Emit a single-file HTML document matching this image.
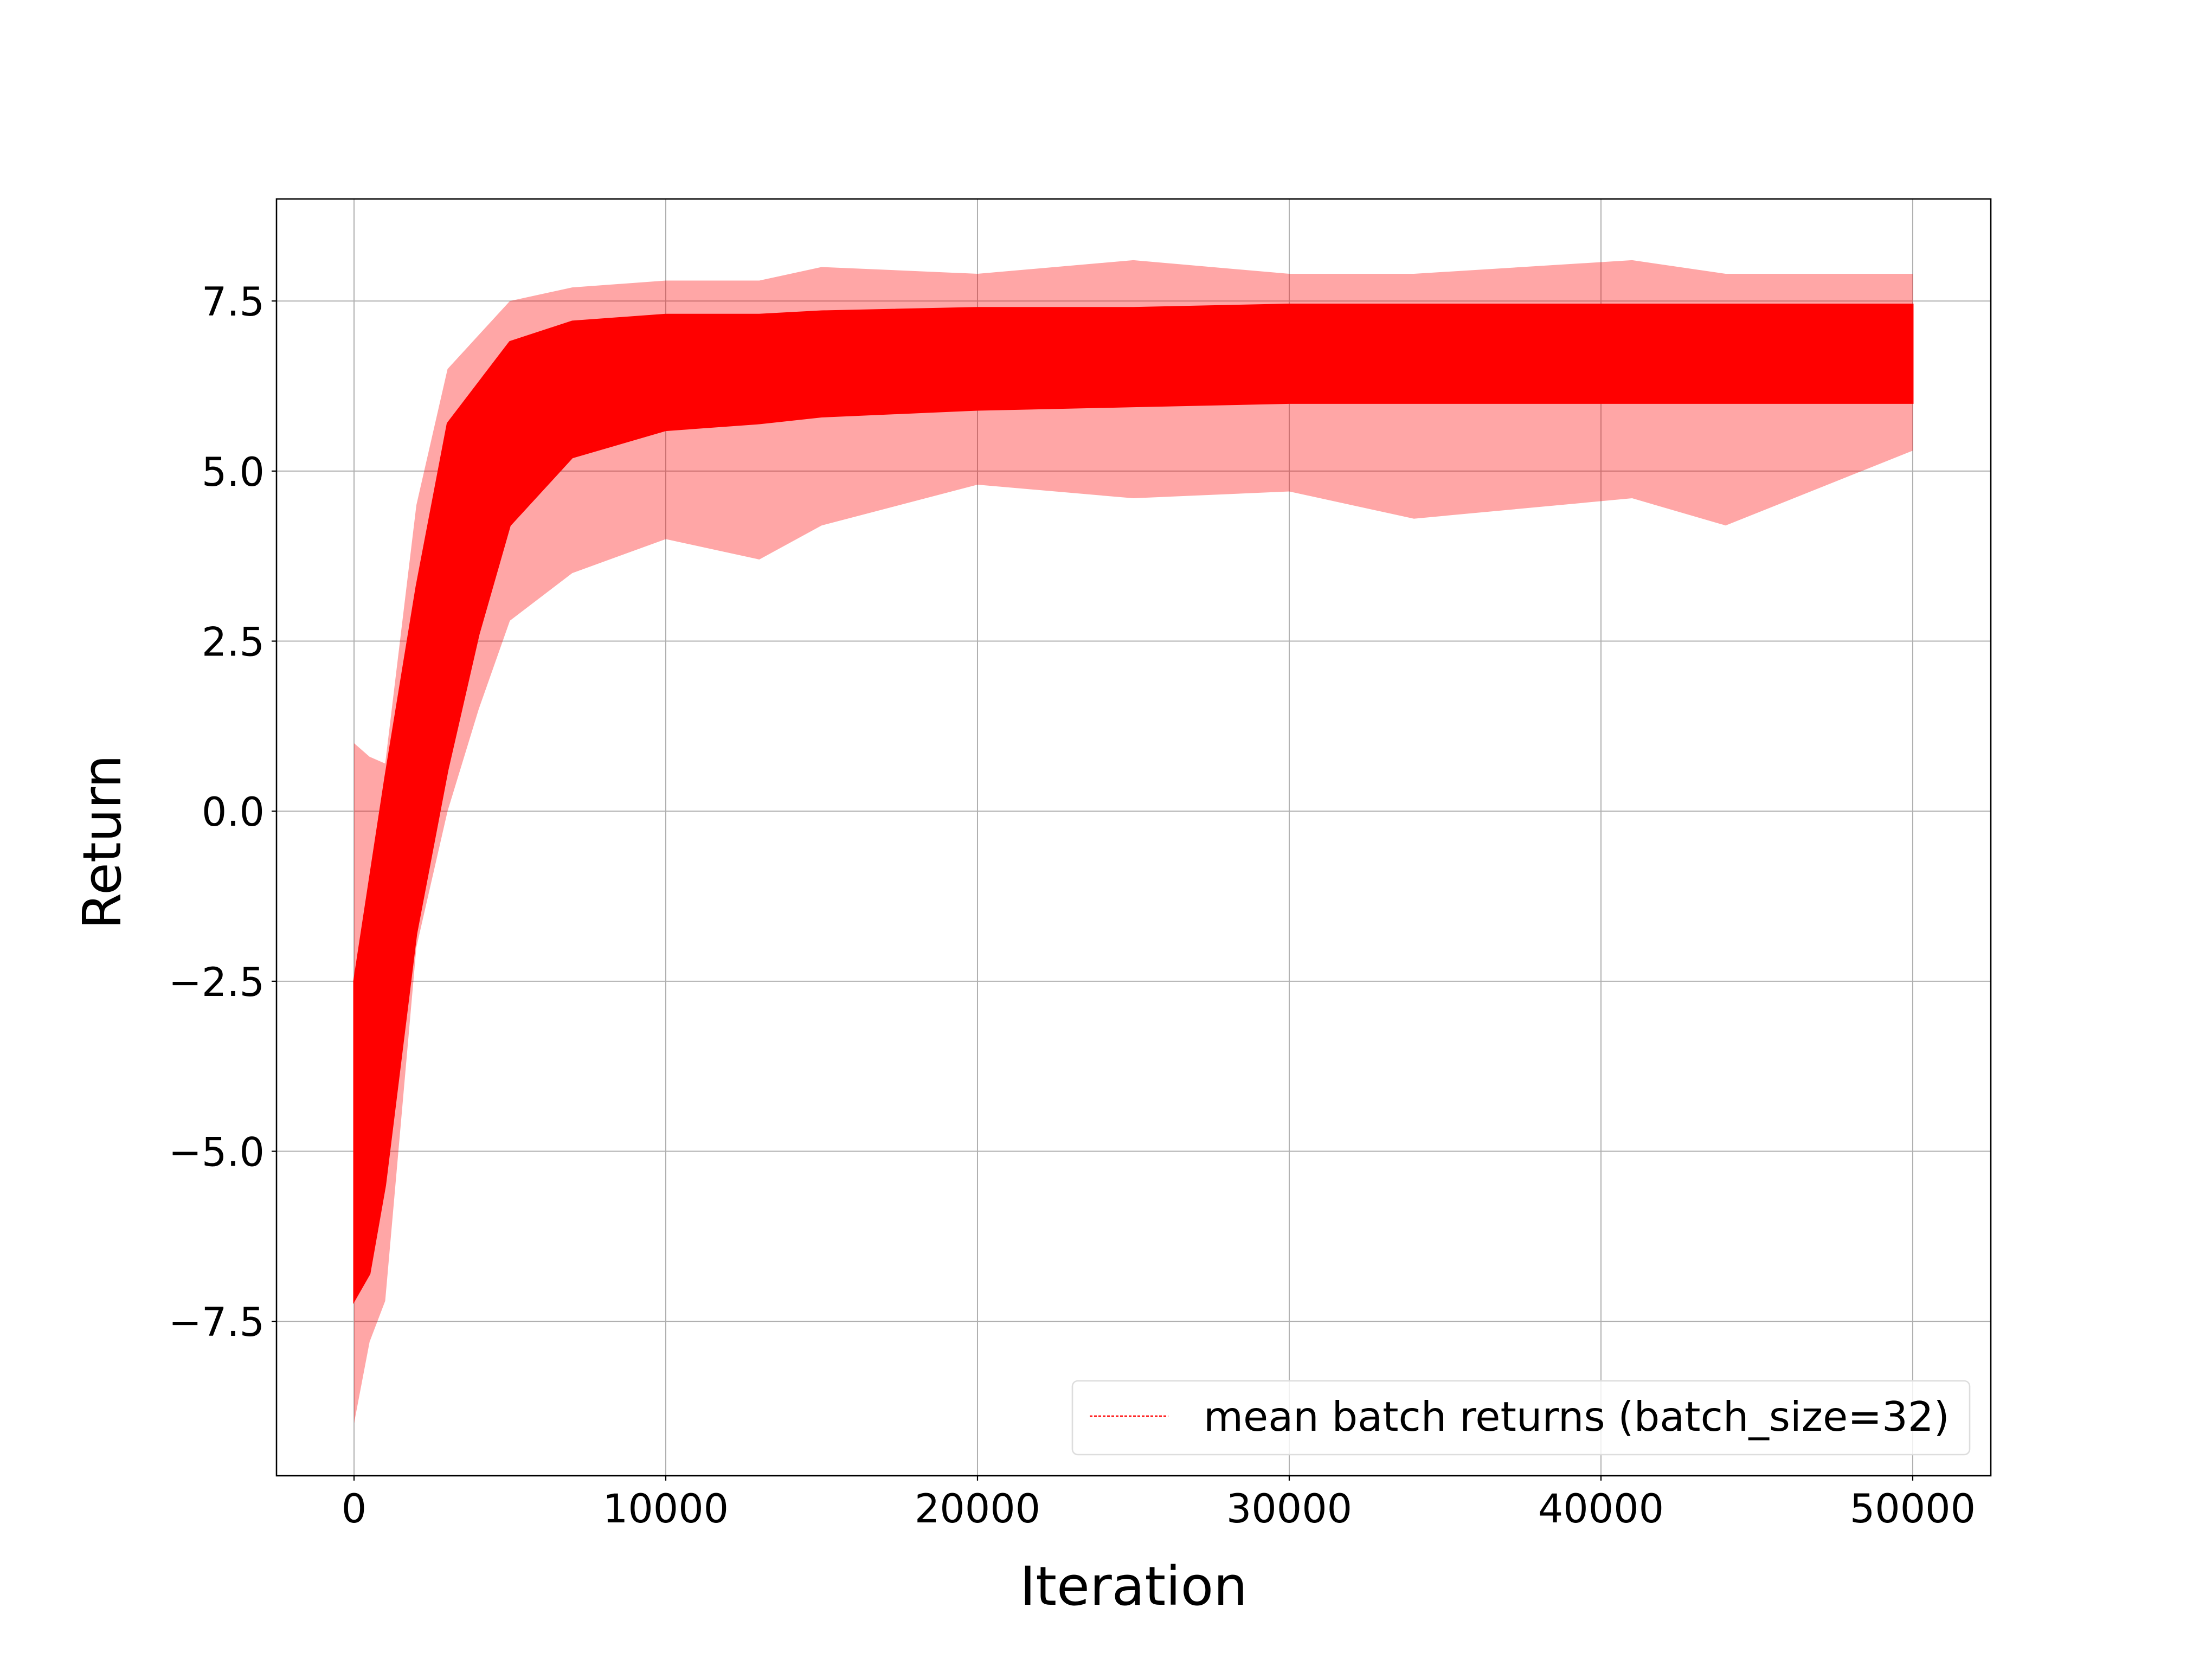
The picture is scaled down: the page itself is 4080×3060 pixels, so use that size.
<!DOCTYPE html>
<html><head><meta charset="utf-8"><style>
html,body{margin:0;padding:0;background:#fff}
svg{display:block;font-family:"DejaVu Sans","Liberation Sans",sans-serif}
</style></head><body>
<svg id="chart" width="4080" height="3060" viewBox="0 0 4080 3060" xmlns="http://www.w3.org/2000/svg">
<rect width="4080" height="3060" fill="#fff"/>
<g id="grid"></g>
<g id="series"></g>
<rect x="510" y="367" width="3162" height="2355" fill="none" stroke="#000" stroke-width="2.6"/>
<g id="ticks"></g>
<text x="2091" y="2960" font-size="99" text-anchor="middle">Iteration</text>
<text transform="translate(222,1553) rotate(-90)" font-size="97" text-anchor="middle">Return</text>
<g>
<rect x="1978" y="2547" width="1655" height="136" rx="10" fill="#fff" fill-opacity="0.8" stroke="#ddd" stroke-width="2.6"/>
<line x1="2010" y1="2612" x2="2155" y2="2612" stroke="red" stroke-width="2.6" stroke-dasharray="5,3"/>
<text x="2220" y="2639" font-size="75">mean batch returns (batch_size=32)</text>
</g>
</svg>
<script>
// Data (iteration samples and envelope values)
const iters      = [0, 500, 1000, 2000, 3000, 4000, 5000, 7000, 10000, 13000, 15000, 20000, 25000, 30000, 34000, 41000, 44000, 50000];
const spikeMax   = [1.0, 0.8, 0.7, 4.5, 6.5, 7.0, 7.5, 7.7, 7.8, 7.8, 8.0, 7.9, 8.1, 7.9, 7.9, 8.1, 7.9, 7.9];
const spikeMin   = [-9.0, -7.8, -7.2, -2.0, 0.0, 1.5, 2.8, 3.5, 4.0, 3.7, 4.2, 4.8, 4.6, 4.7, 4.3, 4.6, 4.2, 5.3];
const coreMax    = [-2.5, -1.0, 0.5, 3.3, 5.7, 6.3, 6.9, 7.2, 7.3, 7.3, 7.35, 7.4, 7.4, 7.45, 7.45, 7.45, 7.45, 7.45];
const coreMin    = [-7.2, -6.8, -5.5, -1.8, 0.6, 2.6, 4.2, 5.2, 5.6, 5.7, 5.8, 5.9, 5.95, 6.0, 6.0, 6.0, 6.0, 6.0];
const xTicks = [0, 10000, 20000, 30000, 40000, 50000];
const yTicks = [-7.5, -5.0, -2.5, 0.0, 2.5, 5.0, 7.5];

const L=510,R=3672,T=367,B=2722;
const xMin=-2487,xMax=52505,yMin=-9.77,yMax=9.0;
const xs=v=>L+(v-xMin)/(xMax-xMin)*(R-L);
const ys=v=>B-(v-yMin)/(yMax-yMin)*(B-T);
const NS="http://www.w3.org/2000/svg";
function mk(tag,attrs,parent){const e=document.createElementNS(NS,tag);for(const k in attrs)e.setAttribute(k,attrs[k]);parent.appendChild(e);return e;}
const grid=document.getElementById('grid'),ticks=document.getElementById('ticks'),ser=document.getElementById('series');
xTicks.forEach(t=>{
  const x=xs(t);
  const g=mk('line',{x1:x,y1:T,x2:x,y2:B,stroke:'#b0b0b0','stroke-width':2},grid);
  
  
  const tk=mk('line',{x1:x,y1:B,x2:x,y2:B+9,stroke:'#000','stroke-width':2.2},ticks);
  
  
  const tx=mk('text',{x:x,y:B+86,'font-size':73,'text-anchor':'middle'},ticks);
  tx.textContent=String(t);
  
  
});
yTicks.forEach(t=>{
  const y=ys(t);
  const g=mk('line',{x1:L,y1:y,x2:R,y2:y,stroke:'#b0b0b0','stroke-width':2},grid);
  
  
  const tk=mk('line',{x1:L-9,y1:y,x2:L,y2:y,stroke:'#000','stroke-width':2.2},ticks);
  
  
  const tx=mk('text',{x:L-22,y:y+27,'font-size':73,'text-anchor':'end'},ticks);
  tx.textContent=(t<0?'\u2212':'')+Math.abs(t).toFixed(1);
  
  
});
function band(up,lo){
  let p=iters.map((v,i)=>xs(v)+','+ys(up[i]));
  for(let i=iters.length-1;i>=0;i--)p.push(xs(iters[i])+','+ys(lo[i]));
  return p.join(' ');
}
const outer=mk('polygon',{points:band(spikeMax,spikeMin),fill:'red','fill-opacity':0.35,stroke:'none'},ser);


const core=mk('polygon',{points:band(coreMax,coreMin),fill:'red',stroke:'red','stroke-width':3},ser);


</script>
</body></html>
